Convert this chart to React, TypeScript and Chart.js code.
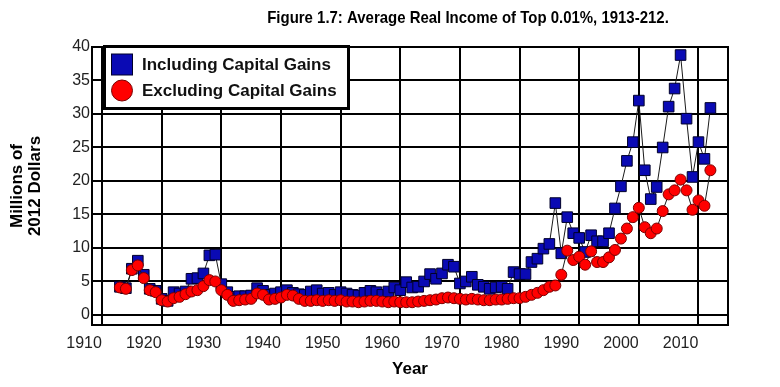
import React, { useEffect, useRef } from 'react';
import { Chart, registerables } from 'chart.js';

Chart.register(...registerables);

const FONT = "'Liberation Sans', Arial, sans-serif";

const titleText = 'Figure 1.7: Average Real Income of Top 0.01%, 1913-212.';
const xAxisTitle = 'Year';
const yAxisTitle = ['Millions of', '2012 Dollars'];
const seriesLabels = ['Including Capital Gains', 'Excluding Capital Gains'];

const years = [
  1913, 1914, 1915, 1916, 1917, 1918, 1919, 1920, 1921, 1922,
  1923, 1924, 1925, 1926, 1927, 1928, 1929, 1930, 1931, 1932,
  1933, 1934, 1935, 1936, 1937, 1938, 1939, 1940, 1941, 1942,
  1943, 1944, 1945, 1946, 1947, 1948, 1949, 1950, 1951, 1952,
  1953, 1954, 1955, 1956, 1957, 1958, 1959, 1960, 1961, 1962,
  1963, 1964, 1965, 1966, 1967, 1968, 1969, 1970, 1971, 1972,
  1973, 1974, 1975, 1976, 1977, 1978, 1979, 1980, 1981, 1982,
  1983, 1984, 1985, 1986, 1987, 1988, 1989, 1990, 1991, 1992,
  1993, 1994, 1995, 1996, 1997, 1998, 1999, 2000, 2001, 2002,
  2003, 2004, 2005, 2006, 2007, 2008, 2009, 2010, 2011, 2012,
];

const includingCapitalGains = [
  4.2, 4.0, 6.9, 8.1, 6.0, 3.9, 3.6, 2.4, 2.1, 3.4,
  3.2, 3.5, 5.4, 5.5, 6.2, 8.9, 9.0, 4.6, 3.4, 2.7,
  2.8, 2.8, 2.9, 4.0, 3.6, 3.0, 3.2, 3.4, 3.7, 3.3,
  3.1, 3.0, 3.5, 3.7, 3.2, 3.3, 3.0, 3.4, 3.2, 3.0,
  2.9, 3.3, 3.6, 3.4, 3.0, 3.5, 4.1, 3.7, 4.9, 4.1,
  4.2, 5.0, 6.1, 5.4, 6.2, 7.5, 7.2, 4.7, 5.0, 5.7,
  4.5, 4.2, 3.9, 4.1, 4.2, 3.9, 6.4, 6.1, 6.1, 7.9,
  8.4, 9.9, 10.6, 16.7, 9.2, 14.6, 12.2, 11.5, 9.4, 11.9,
  11.0, 11.0, 12.2, 15.9, 19.2, 23.0, 25.8, 32.0, 21.6, 17.3,
  19.1, 25.0, 31.1, 33.8, 38.8, 29.3, 20.6, 25.8, 23.3, 30.9,
];

const excludingCapitalGains = [
  4.1, 3.9, 6.7, 7.4, 5.5, 3.7, 3.4, 2.2, 2.0, 2.5,
  2.7, 3.1, 3.5, 3.7, 4.3, 5.2, 5.0, 3.7, 3.0, 2.1,
  2.2, 2.3, 2.4, 3.2, 3.0, 2.3, 2.4, 2.6, 3.0, 2.9,
  2.4, 2.1, 2.1, 2.2, 2.1, 2.2, 2.1, 2.2, 2.0, 2.0,
  1.9, 2.0, 2.1, 2.1, 2.0, 1.9, 2.0, 1.9, 1.9, 1.9,
  2.0, 2.1, 2.2, 2.3, 2.5, 2.6, 2.5, 2.4, 2.3, 2.4,
  2.3, 2.2, 2.2, 2.3, 2.3, 2.4, 2.5, 2.5, 2.7, 3.0,
  3.3, 3.7, 4.2, 4.4, 6.0, 9.6, 8.2, 8.7, 7.5, 9.5,
  7.9, 7.9, 8.6, 9.7, 11.4, 12.9, 14.6, 16.0, 13.1, 12.2,
  12.9, 15.5, 18.0, 18.6, 20.2, 18.6, 15.7, 17.1, 16.3, 21.6,
];

const xTickYears = [1910, 1920, 1930, 1940, 1950, 1960, 1970, 1980, 1990, 2000, 2010];
const yTickValues = [0, 5, 10, 15, 20, 25, 30, 35, 40];

export default function App() {
  const canvasRef = useRef<HTMLCanvasElement | null>(null);

  useEffect(() => {
    const canvas = canvasRef.current;
    if (!canvas) return;

    const decorations = {
      id: 'decorations',
      beforeDatasetsDraw(chart: any) {
        const { ctx, chartArea: a } = chart;
        ctx.save();
        ctx.strokeStyle = '#000';
        ctx.lineWidth = 2;
        ctx.strokeRect(a.left, a.top, a.right - a.left, a.bottom - a.top);
        ctx.restore();
      },
      afterDraw(chart: any) {
        const { ctx } = chart;
        ctx.save();
        // title (condensed bold, like Arial Narrow)
        ctx.save();
        ctx.translate(468, 18);
        ctx.scale(0.88, 1);
        ctx.fillStyle = '#000';
        ctx.font = `bold 17px ${FONT}`;
        ctx.textAlign = 'center';
        ctx.textBaseline = 'middle';
        ctx.fillText(titleText, 0, 0);
        ctx.restore();

        // legend box
        const lx = 104.5, ly = 46.5, lw = 244, lh = 62;
        ctx.fillStyle = '#fff';
        ctx.fillRect(lx, ly, lw, lh);
        ctx.lineWidth = 3;
        ctx.strokeStyle = '#000';
        ctx.strokeRect(lx, ly, lw, lh);

        const items = [...chart.data.datasets].sort((p: any, q: any) => q.order - p.order);
        items.forEach((ds: any, i: number) => {
          const cy = 64.5 + i * 26;
          const cx = 122;
          ctx.fillStyle = ds.pointBackgroundColor;
          ctx.strokeStyle = ds.pointBorderColor;
          ctx.lineWidth = 1;
          if (ds.pointStyle === 'rect') {
            ctx.fillRect(cx - 10.5, cy - 10.5, 21, 21);
            ctx.strokeRect(cx - 10.5, cy - 10.5, 21, 21);
          } else {
            ctx.beginPath();
            ctx.arc(cx, cy, 10.5, 0, Math.PI * 2);
            ctx.fill();
            ctx.stroke();
          }
          ctx.fillStyle = '#111';
          ctx.font = `bold 17px ${FONT}`;
          ctx.textAlign = 'left';
          ctx.textBaseline = 'middle';
          ctx.fillText(ds.label, 142, cy + 1);
        });
        ctx.restore();
      },
    };

    const chart = new Chart(canvas, {
      type: 'line',
      data: {
        datasets: [
          {
            label: seriesLabels[0],
            data: years.map((yr, i) => ({ x: yr, y: includingCapitalGains[i] })),
            order: 1,
            showLine: true,
            borderColor: '#1a1a1a',
            borderWidth: 1,
            pointStyle: 'rect',
            pointRadius: 7.5,
            pointBackgroundColor: '#0A0AB4',
            pointBorderColor: '#00002a',
            pointBorderWidth: 1,
          },
          {
            label: seriesLabels[1],
            data: years.map((yr, i) => ({ x: yr, y: excludingCapitalGains[i] })),
            order: 0,
            showLine: true,
            borderColor: '#1a1a1a',
            borderWidth: 1,
            pointStyle: 'circle',
            pointRadius: 5.5,
            pointBackgroundColor: '#FF0000',
            pointBorderColor: '#7a0000',
            pointBorderWidth: 1,
          },
        ],
      },
      options: {
        animation: false,
        responsive: false,
        events: [],
        layout: { padding: { left: 0, top: 47, right: 52, bottom: 0 } },
        plugins: { legend: { display: false }, title: { display: false }, tooltip: { enabled: false } },
        scales: {
          x: {
            type: 'linear',
            min: 1908.32,
            max: 2014.95,
            afterBuildTicks: (s: any) => {
              s.ticks = xTickYears.map((v) => ({ value: v }));
            },
            afterFit: (s: any) => {
              s.height = 62;
            },
            grid: { color: '#000', lineWidth: 2, drawTicks: false },
            border: { display: false },
            ticks: {
              color: '#222',
              font: { family: FONT, size: 16 },
              padding: 9,
              labelOffset: -17.9,
              maxRotation: 0,
              autoSkip: false,
              callback: (v: any) => String(v),
            },
            title: {
              display: true,
              text: xAxisTitle,
              color: '#000',
              font: { family: FONT, size: 17, weight: 'bold' },
              padding: { top: 0, bottom: 7 },
            },
          },
          y: {
            type: 'linear',
            min: -1.5,
            max: 40,
            afterBuildTicks: (s: any) => {
              s.ticks = yTickValues.map((v) => ({ value: v }));
            },
            afterFit: (s: any) => {
              s.width = 92;
            },
            grid: { color: '#000', lineWidth: 2, drawTicks: false },
            border: { display: false },
            ticks: {
              color: '#222',
              font: { family: FONT, size: 16 },
              padding: 2,
              callback: (v: any) => String(v),
            },
            title: {
              display: true,
              text: yAxisTitle,
              color: '#000',
              font: { family: FONT, size: 17, weight: 'bold', lineHeight: 1.06 },
              padding: { top: 8, bottom: 0 },
            },
          },
        },
      },
      plugins: [decorations],
    } as any);

    return () => chart.destroy();
  }, []);

  return (
    <div style={{ position: 'absolute', left: 0, top: 0, width: 780, height: 387, background: '#fff' }}>
      <canvas ref={canvasRef} width={780} height={387} style={{ width: 780, height: 387, display: 'block' }} />
    </div>
  );
}
